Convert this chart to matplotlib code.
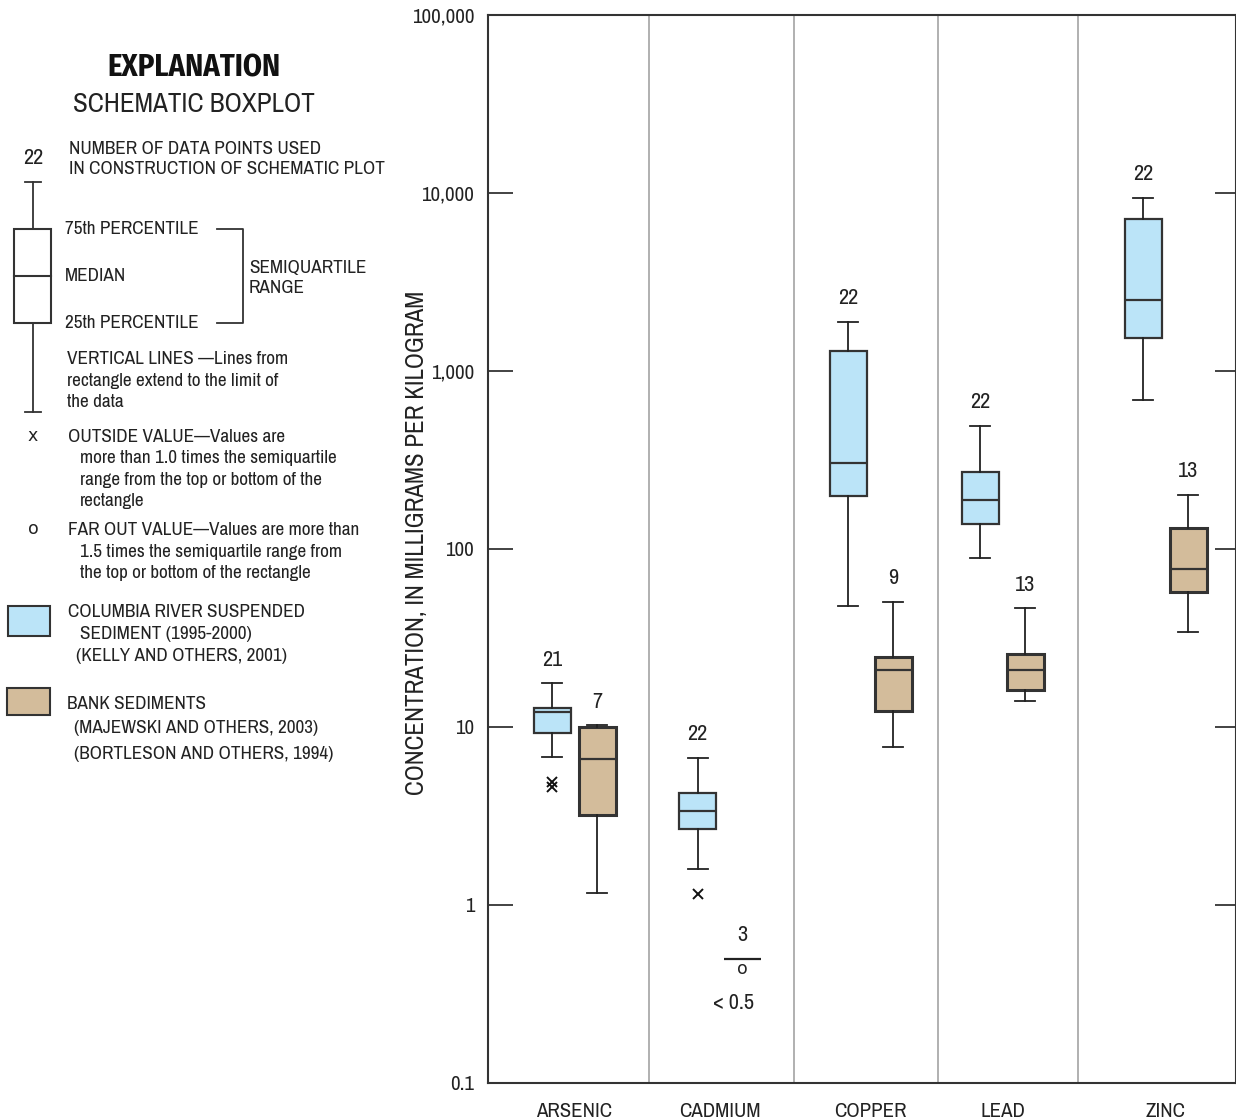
import matplotlib
matplotlib.use("Agg")
import matplotlib.pyplot as plt
from matplotlib.patches import Rectangle
from matplotlib.lines import Line2D

plt.rcParams['font.family'] = ['Archivo Narrow', 'DejaVu Sans']

# ---- data (milligrams per kilogram) ----
elements = ["ARSENIC", "CADMIUM", "COPPER", "LEAD", "ZINC"]

# Columbia River suspended sediment
river_n = [21, 22, 22, 22, 22]
river_whislo = [6.8, 1.6, 48, 89, 690]
river_q1 = [9.25, 2.67, 199, 139, 1530]
river_med = [12.1, 3.37, 305, 189, 2500]
river_q3 = [12.8, 4.27, 1300, 270, 7180]
river_whishi = [17.6, 6.7, 1885, 493, 9400]
river_outside = [[4.9, 4.6], [1.15], [], [], []]

# Bank sediments (cadmium: all values below the reporting level)
bank_n = [7, 3, 9, 13, 13]
bank_whislo = [1.17, None, 7.7, 14.0, 34.3]
bank_q1 = [3.22, None, 12.3, 16.1, 57.5]
bank_med = [6.63, None, 20.9, 20.9, 76.9]
bank_q3 = [10.0, None, 24.8, 25.8, 132]
bank_whishi = [10.2, None, 50.6, 46.4, 201]
bank_outside = [[], [], [], [], []]
cd_bank_limit = 0.5

y_ticks = [0.1, 1, 10, 100, 1000, 10000, 100000]
y_ticklabels = ["0.1", "1", "10", "100", "1,000", "10,000", "100,000"]

# ---- layout ----
group_centers = [8.65, 23.2, 38.25, 51.45, 67.75]
pair_offset = 2.25
box_width = 3.7
cap_width = 2.0
separators = [16.1, 30.6, 45.0, 59.0]

river_color = "#BBE4F8"
bank_color = "#D3BC9B"
edge = "#333333"
symbol_font = ["DejaVu Sans"]

W, H = 1236, 1120
fig = plt.figure(figsize=(W / 100, H / 100), dpi=100)
ax = fig.add_axes([488 / W, 37 / H, 1 - 488 / W, (1083 - 15) / H])
ax.set_yscale("log")
ax.set_ylim(0.1, 100000)
ax.set_xlim(0, 74.8)


def stats_list(n, lo, q1, med, q3, hi, out):
    res = []
    for i in range(len(n)):
        if med[i] is None:
            continue
        res.append(dict(med=med[i], q1=q1[i], q3=q3[i], whislo=lo[i],
                        whishi=hi[i], fliers=out[i]))
    return res


river_stats = stats_list(river_n, river_whislo, river_q1, river_med,
                         river_q3, river_whishi, river_outside)
river_pos = [c - pair_offset for c in group_centers]

bank_idx = [i for i in range(len(elements)) if bank_med[i] is not None]
bank_stats = stats_list(bank_n, bank_whislo, bank_q1, bank_med,
                        bank_q3, bank_whishi, bank_outside)
bank_pos = [group_centers[i] + pair_offset for i in bank_idx]

flier = dict(marker="x", markersize=6.5, markeredgecolor="#111111",
             markeredgewidth=1.4, linestyle="none")

ax.bxp(river_stats, positions=river_pos, widths=box_width,
       capwidths=cap_width, patch_artist=True, manage_ticks=False,
       boxprops=dict(facecolor=river_color, edgecolor=edge, linewidth=1.6),
       medianprops=dict(color=edge, linewidth=1.6),
       whiskerprops=dict(color="#222222", linewidth=1.3),
       capprops=dict(color="#222222", linewidth=1.3),
       flierprops=flier, zorder=3)

ax.bxp(bank_stats, positions=bank_pos, widths=box_width,
       capwidths=cap_width, patch_artist=True, manage_ticks=False,
       boxprops=dict(facecolor=bank_color, edgecolor=edge, linewidth=2.2),
       medianprops=dict(color=edge, linewidth=1.6),
       whiskerprops=dict(color="#222222", linewidth=1.3),
       capprops=dict(color="#222222", linewidth=1.3),
       flierprops=flier, zorder=3)

fs = 15
nfs = 16
# counts above each upper whisker
for i, n in enumerate(river_n):
    ax.annotate(str(n), (river_pos[i], river_whishi[i]), xytext=(0, 17),
                textcoords="offset points", ha="center", va="center",
                fontsize=nfs, color="#222222")
for k, i in enumerate(bank_idx):
    ax.annotate(str(bank_n[i]), (bank_pos[k], bank_whishi[i]), xytext=(0, 17),
                textcoords="offset points", ha="center", va="center",
                fontsize=nfs, color="#222222")

# cadmium bank sediments: reporting level with far-out symbol
ci = elements.index("CADMIUM")
cx = group_centers[ci] + pair_offset
ax.hlines(cd_bank_limit, cx - box_width / 2, cx + box_width / 2,
          color="#222222", linewidth=1.6, zorder=3)
ax.annotate(str(bank_n[ci]), (cx, cd_bank_limit), xytext=(0, 17),
            textcoords="offset points", ha="center", va="center",
            fontsize=nfs, color="#222222")
ax.annotate("o", (cx, cd_bank_limit), xytext=(0, -7.5),
            textcoords="offset points", ha="center", va="center",
            fontsize=12.5, family=symbol_font, color="#222222")
ax.annotate("< 0.5", (cx - 0.9, cd_bank_limit), xytext=(0, -32),
            textcoords="offset points", ha="center", va="center",
            fontsize=nfs, color="#222222")

# group separators
for s in separators:
    ax.axvline(s, color="#AAAAAA", linewidth=1.3, zorder=1)

# axes styling
for side in ["left", "top", "bottom", "right"]:
    ax.spines[side].set_color("#333333")
    ax.spines[side].set_linewidth(1.5)
ax.yaxis.set_minor_locator(matplotlib.ticker.NullLocator())
ax.set_yticks(y_ticks)
ax.set_yticklabels(y_ticklabels, fontsize=fs, color="#222222")
ax.tick_params(axis="y", which="major", direction="in", length=18,
               width=1.2, color="#222222", left=True, right=True, pad=10)
ax.set_xticks(group_centers)
ax.set_xticklabels(elements, fontsize=fs, color="#222222")
ax.tick_params(axis="x", length=0, pad=14)
ax.set_ylabel("CONCENTRATION, IN MILLIGRAMS PER KILOGRAM", fontsize=18,
              color="#222222")
ax.yaxis.set_label_coords(-0.0802, 0.506)
for t in ax.yaxis.get_major_ticks():
    t.tick2line.set_markersize(15)

# ---- explanation panel ----
lg = fig.add_axes([0, 0, 400 / W, 1])
lg.set_xlim(0, 400)
lg.set_ylim(H, 0)
lg.axis("off")
tc = "#222222"
body = 13.8

lg.text(193.5, 68, "EXPLANATION", fontsize=22, fontweight="bold",
        family=["Fira Sans Condensed", "DejaVu Sans"],
        ha="center", va="center", color="#111111")
lg.text(193.5, 104, "SCHEMATIC BOXPLOT", fontsize=19.5, ha="center",
        va="center", color=tc)

# schematic box
bx = 33
lg.text(bx, 158, "22", fontsize=nfs, ha="center", va="center", color=tc)
lg.add_patch(Rectangle((14, 229), 37, 94, facecolor="white",
                       edgecolor="#333333", linewidth=1.5))
lg.add_line(Line2D([14, 51], [276, 276], color="#333333", linewidth=1.5))
lg.add_line(Line2D([bx, bx], [182, 229], color="#333333", linewidth=1.3))
lg.add_line(Line2D([bx, bx], [323, 412], color="#333333", linewidth=1.3))
lg.add_line(Line2D([25, 41], [182, 182], color="#333333", linewidth=1.3))
lg.add_line(Line2D([25, 41], [412, 412], color="#333333", linewidth=1.3))
# bracket
lg.add_line(Line2D([217, 243, 243, 217], [229, 229, 323, 323],
                   color="#333333", linewidth=1.3))

lines = [
    (69, 149, "NUMBER OF DATA POINTS USED"),
    (69, 169, "IN CONSTRUCTION OF SCHEMATIC PLOT"),
    (65, 229, "75th PERCENTILE"),
    (65, 276, "MEDIAN"),
    (65, 323, "25th PERCENTILE"),
    (249, 268, "SEMIQUARTILE"),
    (249, 288, "RANGE"),
    (67, 359, "VERTICAL LINES \u2014Lines from"),
    (67, 381, "rectangle extend to the limit of"),
    (67, 402, "the data"),
    (68, 437, "OUTSIDE VALUE\u2014Values are"),
    (80, 458, "more than 1.0 times the semiquartile"),
    (80, 480, "range from the top or bottom of the"),
    (80, 501, "rectangle"),
    (68, 530, "FAR OUT VALUE\u2014Values are more than"),
    (80, 552, "1.5 times the semiquartile range from"),
    (80, 573, "the top or bottom of the rectangle"),
    (68, 612, "COLUMBIA RIVER SUSPENDED"),
    (80, 634, "SEDIMENT (1995-2000)"),
    (76, 656, "(KELLY AND OTHERS, 2001)"),
    (67, 704, "BANK SEDIMENTS"),
    (74, 728, "(MAJEWSKI AND OTHERS, 2003)"),
    (74, 754, "(BORTLESON AND OTHERS, 1994)"),
]
for x, y, s in lines:
    lg.text(x, y, s, fontsize=body, ha="left", va="center", color=tc)

lg.text(bx, 436, "x", fontsize=12.5, family=symbol_font, ha="center",
        va="center", color=tc)
lg.text(bx, 529, "o", fontsize=12.5, family=symbol_font, ha="center",
        va="center", color=tc)
lg.add_patch(Rectangle((8, 606), 42, 30, facecolor=river_color,
                       edgecolor="#333333", linewidth=1.5))
lg.add_patch(Rectangle((7, 688), 43, 27, facecolor=bank_color,
                       edgecolor="#333333", linewidth=1.5))

fig.savefig("out.png", dpi=100)
